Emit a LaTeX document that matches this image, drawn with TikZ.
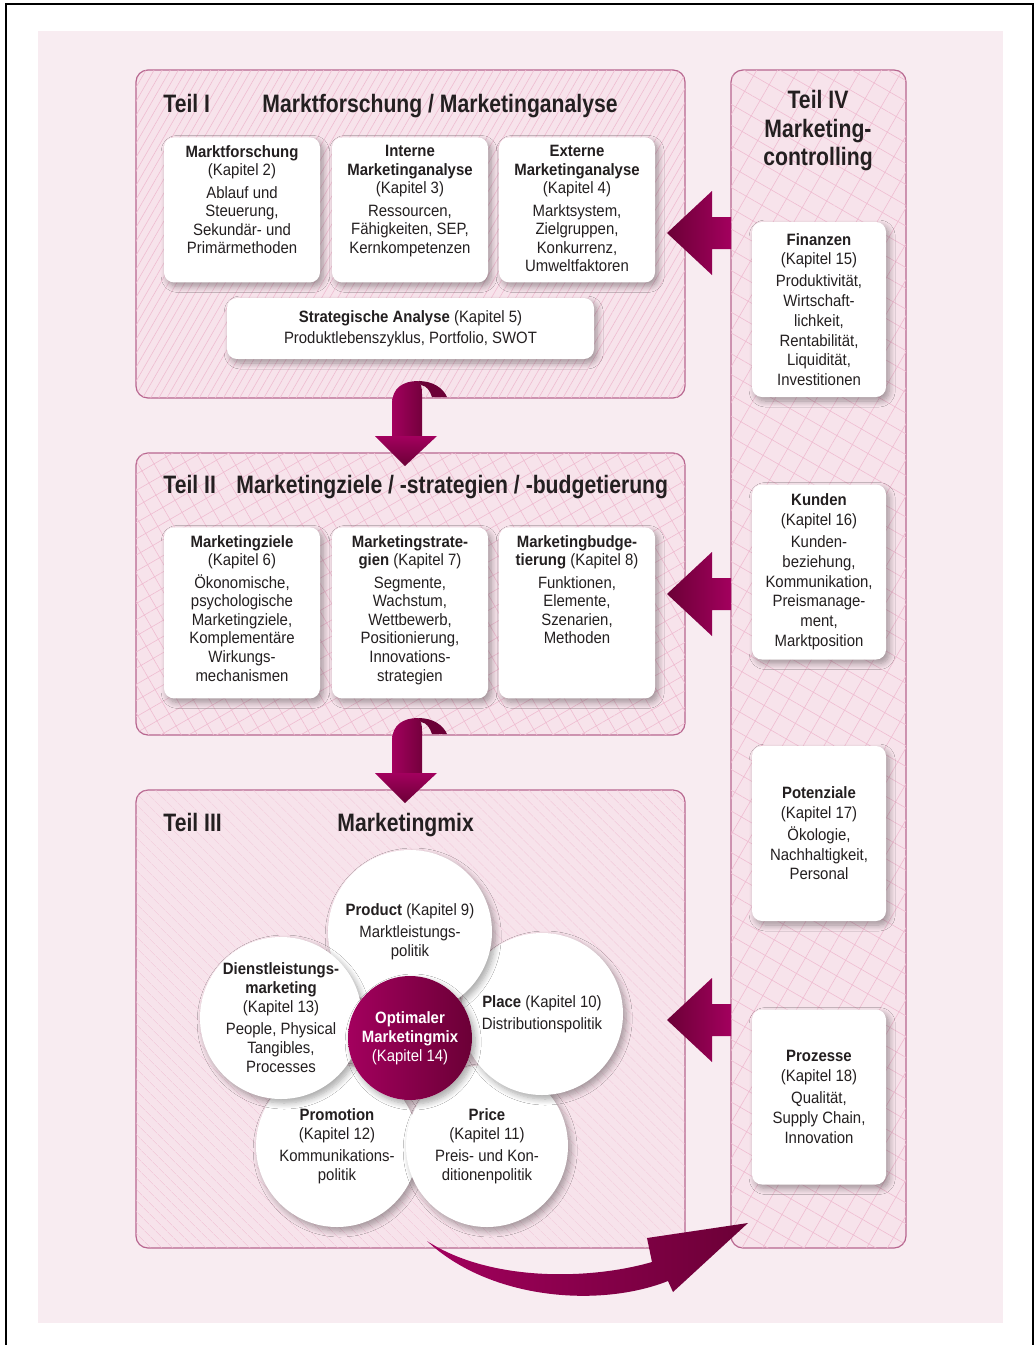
\documentclass[tikz,border=0pt]{standalone}
\usepackage{fontspec}
\setmainfont{Liberation Sans}[FakeStretch=0.91]
\newfontfamily\headfont{Liberation Sans}[FakeStretch=0.84]
\usetikzlibrary{shadows.blur,patterns.meta}

\definecolor{bgpink}{HTML}{F8ECF1}
\definecolor{teilfill}{HTML}{F7E3EB}
\definecolor{teilline}{HTML}{B8668F}
\definecolor{texture}{HTML}{EFBCD1}
\definecolor{wine}{HTML}{6B0036}
\definecolor{berry}{HTML}{A3005E}
\definecolor{ink}{HTML}{231F20}

\newcommand{\gap}{1.8pt}
\newcommand{\boxtext}[2]{\parbox[c][#1][t]{76pt}{\centering #2}}

\tikzset{
  teil/.style={draw=teilline, line width=0.6pt, fill=teilfill, rounded corners=6pt},
  texture/.style={postaction={pattern={#1}, pattern color=texture}},
  heading/.style={font=\headfont\bfseries\fontsize{12.6}{14.25}\selectfont, inner sep=0pt},
  softshadow/.style={blur shadow={shadow xshift=1.6pt, shadow yshift=-2pt,
      shadow blur radius=3pt, shadow blur steps=8, shadow opacity=35}},
  panel/.style={fill=white, rounded corners=5pt, inner xsep=1pt, inner ysep=4pt, softshadow},
  ctrlpanel/.style={panel, minimum width=67pt, minimum height=87.5pt, align=center,
      font=\fontsize{8.2}{9.9}\selectfont},
  circ/.style={circle, fill=white, minimum size=81pt, inner sep=0pt, align=center,
      font=\fontsize{8.2}{9.5}\selectfont, softshadow}
}

\begin{document}
\begin{tikzpicture}[x=0.5pt, y=-0.5pt, font=\fontsize{8.2}{9.3}\selectfont, text=ink]
  \useasboundingbox (0,0) rectangle (1036,1345);
  \fill[white] (0,0) rectangle (1036,1345);
  \draw[line width=1.3pt] (6,1345) -- (6,4) -- (1033,4) -- (1033,1345);
  \fill[bgpink] (38,31) rectangle (1003,1323);

  % the four parts
  \draw[teil, texture={Lines[angle=60, distance=3.5pt, line width=0.3pt]}] (136,70) rectangle (685,398);
  \draw[teil, texture={Hatch[angle=30, distance=7pt, line width=0.3pt]}] (136,453) rectangle (685,735);
  \draw[teil, texture={Lines[angle=-45, distance=4pt, line width=0.3pt]}] (136,790) rectangle (685,1248);
  \draw[teil, texture={Hatch[angle=60, distance=9pt, line width=0.3pt]}] (731,70) rectangle (906,1248);

  % Teil I
  \node[heading, anchor=base west] (t1-nr) at (163,112) {Teil I};
  \node[heading, anchor=base west] (t1-head) at (262,112) {Marktforschung / Marketinganalyse};

  \node[panel, anchor=north] (mafo) at (242,137) {\boxtext{64.5pt}{\textbf{Marktforschung}\\(Kapitel 2)\\[\gap]Ablauf und\\Steuerung,\\Sekundär- und\\Primärmethoden}};
  \node[panel, anchor=north] (intern) at (410,137) {\boxtext{64.5pt}{\textbf{Interne}\\\textbf{Marketinganalyse}\\(Kapitel 3)\\[\gap]Ressourcen,\\Fähigkeiten, SEP,\\Kernkompetenzen}};
  \node[panel, anchor=north] (extern) at (577,137) {\boxtext{64.5pt}{\textbf{Externe}\\\textbf{Marketinganalyse}\\(Kapitel 4)\\[\gap]Marktsystem,\\Zielgruppen,\\Konkurrenz,\\Umweltfaktoren}};
  \node[panel, minimum width=183.5pt, minimum height=30.5pt, align=center] (strat) at (410.5,328.5)
    {\textbf{Strategische Analyse} (Kapitel 5)\\[1pt]Produktlebenszyklus, Portfolio, SWOT};

  % Teil II
  \node[heading, anchor=base west] (t2-nr) at (163,493) {Teil II};
  \node[heading, anchor=base west] (t2-head) at (236,493) {Marketingziele / -strategien / -budgetierung};

  \node[panel, anchor=north] (ziele) at (242,527) {\boxtext{77.5pt}{\textbf{Marketingziele}\\(Kapitel 6)\\[\gap]Ökonomische,\\psychologische\\Marketingziele,\\Komplementäre\\Wirkungs-\\mechanismen}};
  \node[panel, anchor=north] (strategien) at (410,527) {\boxtext{77.5pt}{\textbf{Marketingstrate-}\\\textbf{gien} (Kapitel 7)\\[\gap]Segmente,\\Wachstum,\\Wettbewerb,\\Positionierung,\\Innovations-\\strategien}};
  \node[panel, anchor=north] (budget) at (577,527) {\boxtext{77.5pt}{\textbf{Marketingbudge-}\\\textbf{tierung} (Kapitel 8)\\[\gap]Funktionen,\\Elemente,\\Szenarien,\\Methoden}};

  % Teil III
  \node[heading, anchor=base west] (t3-nr) at (163,831) {Teil III};
  \node[heading, anchor=base west] (t3-head) at (337,831) {Marketingmix};

  \node[circ] (promotion) at (337,1146) {\textbf{Promotion}\\(Kapitel 12)\\[1.5pt]Kommunikations-\\politik};
  \node[circ] (price) at (487,1146) {\textbf{Price}\\(Kapitel 11)\\[1.5pt]Preis- und Kon-\\ditionenpolitik};
  \node[circ] (place) at (542,1014) {\textbf{Place} (Kapitel 10)\\[1.5pt]Distributionspolitik};
  \node[circ, minimum size=82pt] (product) at (410,932) {\textbf{Product} (Kapitel 9)\\[1.5pt]Marktleistungs-\\politik};
  \node[circ] (service) at (281,1018) {\textbf{Dienstleistungs-}\\\textbf{marketing}\\(Kapitel 13)\\[1.5pt]People, Physical\\Tangibles,\\Processes};
  \node[circ, minimum size=62pt, left color=berry, right color=wine, text=white] (mix) at (410,1038)
    {\textbf{Optimaler}\\\textbf{Marketingmix}\\(Kapitel 14)};

  % Teil IV
  \node[heading, align=center, anchor=north] (t4-head) at (818,90) {Teil IV\\Marketing-\\controlling};

  \node[ctrlpanel] (finanzen) at (819,309.5) {\textbf{Finanzen}\\(Kapitel 15)\\[1pt]Produktivität,\\Wirtschaft-\\lichkeit,\\Rentabilität,\\Liquidität,\\Investitionen};
  \node[ctrlpanel] (kunden) at (819,572) {\textbf{Kunden}\\(Kapitel 16)\\[1pt]Kunden-\\beziehung,\\Kommunikation,\\Preismanage-\\ment,\\Marktposition};
  \node[ctrlpanel] (potenziale) at (819,833.5) {\textbf{Potenziale}\\(Kapitel 17)\\[1pt]Ökologie,\\Nachhaltigkeit,\\Personal};
  \node[ctrlpanel] (prozesse) at (819,1097) {\textbf{Prozesse}\\(Kapitel 18)\\[1pt]Qualität,\\Supply Chain,\\Innovation};

  % feedback arrows from controlling
  \foreach \c in {233,594,1020}
    \shade[left color=wine, right color=berry] (667,\c) -- (712,\c-42) -- (712,\c-16)
      -- (731,\c-16) -- (731,\c+16) -- (712,\c+16) -- (712,\c+42) -- cycle;

  % curled arrows between the parts
  \foreach \dy in {0,337} {
    \begin{scope}[shift={(0,\dy)}]
      \shade[left color=berry, right color=wine!85!berry] (392,436) -- (392,404)
        .. controls (392,388) and (403,381) .. (418,381)
        .. controls (421,383) and (422,387) .. (422,394) -- (422,436) -- cycle;
      \fill[wine] (418,381) .. controls (433,381) and (443,388) .. (447,397) -- (432,397)
        .. controls (430,391) and (427,386) .. (421,385) -- cycle;
      \shade[top color=berry, bottom color=wine] (375,436) -- (437,436) -- (405,466) -- cycle;
    \end{scope}
  }

  % arrow from the mix to controlling
  \shade[left color=berry, right color=wine] (427,1241) .. controls (490,1300) and (600,1308) .. (668,1281)
    -- (673,1292) -- (748,1223) -- (647,1238) -- (652,1262)
    .. controls (590,1280) and (490,1282) .. (427,1241) -- cycle;
\end{tikzpicture}
\end{document}
